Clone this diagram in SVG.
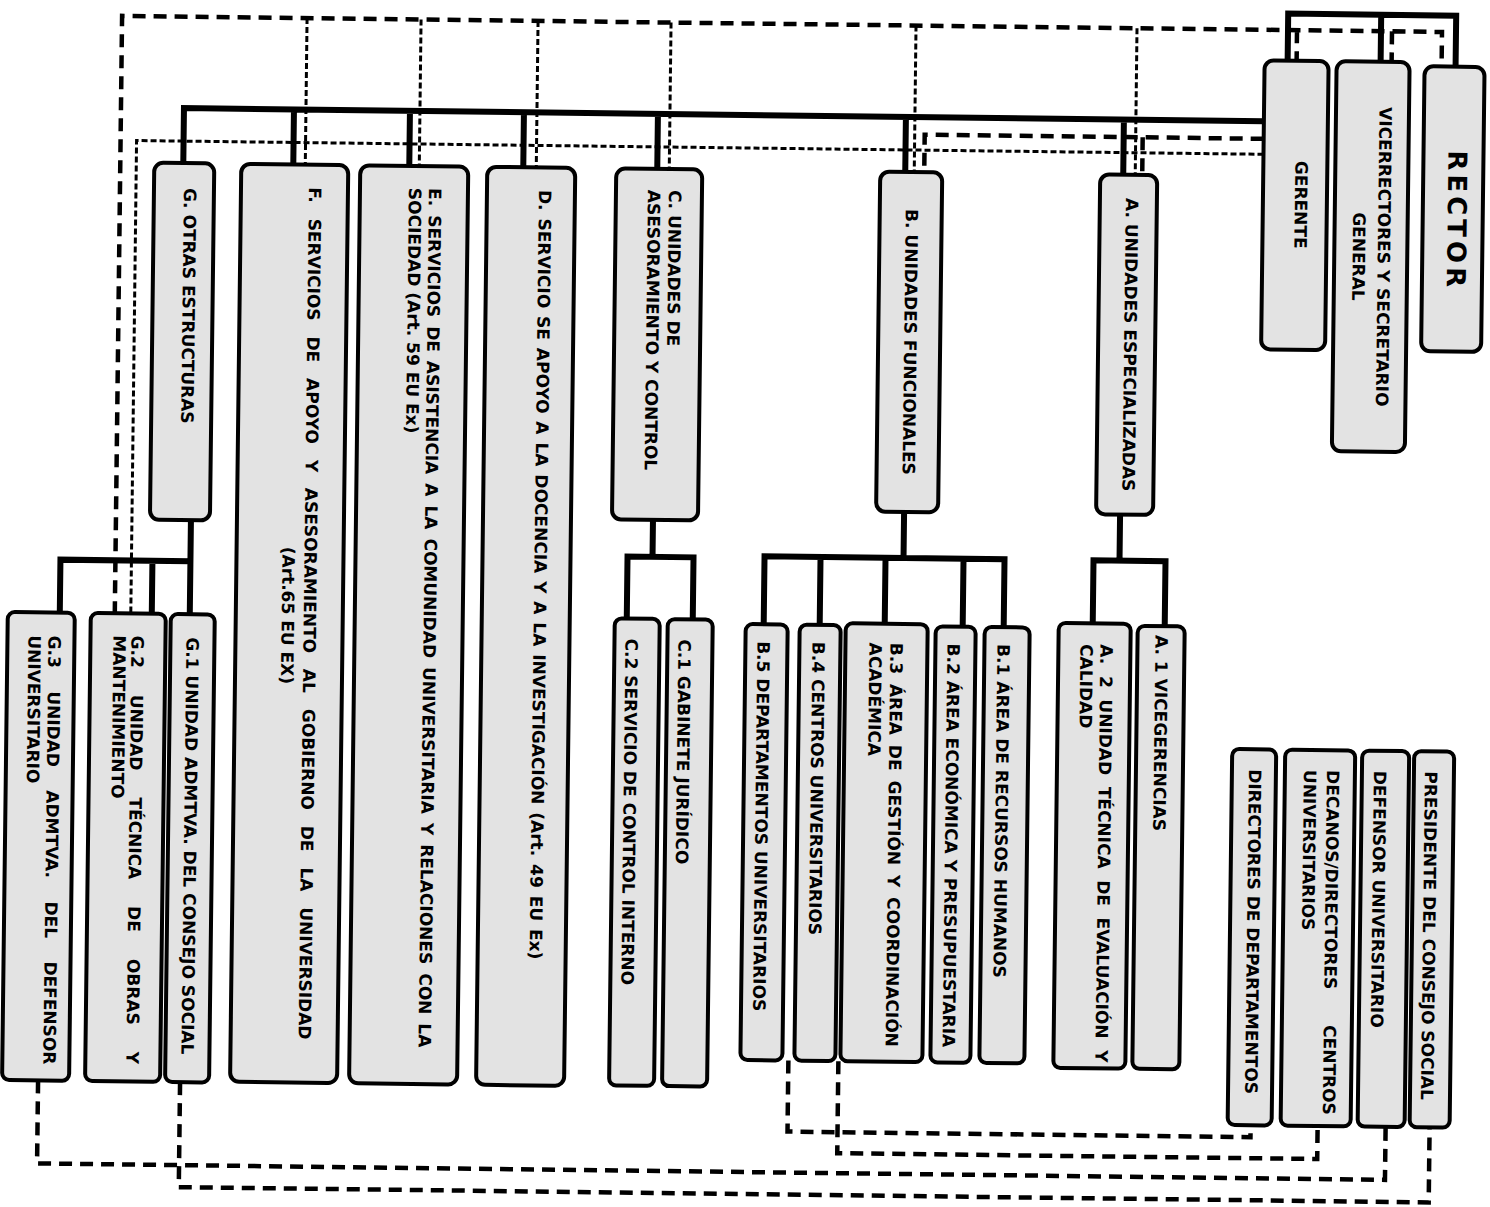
<svg xmlns="http://www.w3.org/2000/svg" width="1490" height="1207" viewBox="0 0 1490 1207">
<style>
.box{fill:#e3e3e3;stroke:#000;stroke-width:4}
.t{font-family:"DejaVu Sans",Verdana,sans-serif;font-weight:bold;font-size:17px;fill:#000}
.solid{fill:none;stroke:#000;stroke-width:6;stroke-linejoin:miter}
.dash{fill:none;stroke:#000;stroke-width:4.5;stroke-dasharray:13 8}
.fine{fill:none;stroke:#000;stroke-width:3;stroke-dasharray:6 3}
</style>
<rect x="0" y="0" width="1490" height="1207" fill="#fff"/>
<g transform="rotate(0.7 745 600)">
<g id="connectors">
<path class="solid" d="M178 170 V115 H1258 M288 115 V170 M404 115 V170 M518 115 V170 M652 115 V170 M900 115 V170 M1118 115 V170"/>
<path class="solid" d="M1281 54 V7 H1449 V58 M1374 7 V54"/>
<path class="solid" d="M190 527 V622 M60 622 V568 H190 M152 568 V622"/>
<path class="solid" d="M652 521 V558 M627 620 V558 H693 V620"/>
<path class="solid" d="M903 510 V556 M764 624 V556 H1004 V624 M820 556 V624 M885 556 V622 M963 556 V624"/>
<path class="solid" d="M1119 510 V556 M1093 619 V556 H1165 V621"/>
<path class="dash" d="M115 622 V23.5 H1435 V58 M1290 23.5 V54 M1385 23.5 V54"/>
<path class="dash" d="M1258 132.5 H919 V170 M1137 132.5 V170"/>
<path class="fine" d="M1258 148 H131 V622"/>
<path class="fine" d="M300 23.5 V170 M414 23.5 V170 M531 23.5 V170 M664 23.5 V170 M909 23.5 V170 M1130 23.5 V170"/>
<path class="dash" d="M794 1060 V1131 H1257 V1119"/>
<path class="dash" d="M844 1060 V1152 H1324 V1119"/>
<path class="dash" d="M44 1089 V1172 H1392 V1119"/>
<path class="dash" d="M186 1089 V1194 H1436 V1119"/>
</g>
<g id="rector"><rect class="box" x="1418" y="58" width="60" height="285" rx="9"/>
<text class="t" style="font-size:26px;letter-spacing:4px" text-anchor="middle" transform="translate(1443,212) rotate(90)">RECTOR</text></g>
<g id="vicerrectores"><rect class="box" x="1330" y="54" width="73" height="390" rx="9"/>
<text class="t" text-anchor="middle" transform="translate(1373.5,249) rotate(90)">VICERRECTORES Y SECRETARIO<tspan x="0" dy="25">GENERAL</tspan></text></g>
<g id="gerente"><rect class="box" x="1258" y="54" width="64" height="289" rx="9"/>
<text class="t" text-anchor="middle" transform="translate(1290,198) rotate(90)">GERENTE</text></g>
<g id="node-a"><rect class="box" x="1095" y="170" width="57" height="340" rx="9"/>
<text class="t" text-anchor="middle" transform="translate(1121,340) rotate(90)">A. UNIDADES ESPECIALIZADAS</text></g>
<g id="node-b"><rect class="box" x="875" y="170" width="62" height="340" rx="9"/>
<text class="t" text-anchor="middle" transform="translate(901,340) rotate(90)">B. UNIDADES FUNCIONALES</text></g>
<g id="node-c"><rect class="box" x="611" y="170" width="86" height="351" rx="9"/>
<text class="t" transform="translate(664,191) rotate(90)">C. UNIDADES DE<tspan x="0" dy="21">ASESORAMIENTO Y CONTROL</tspan></text></g>
<g id="node-d"><rect class="box" x="482" y="170" width="88" height="918" rx="9"/>
<text class="t" word-spacing="2" transform="translate(534,192.5) rotate(90)">D. SERVICIO SE APOYO A LA DOCENCIA Y A LA INVESTIGACIÓN (Art. 49 EU Ex)</text></g>
<g id="node-e"><rect class="box" x="355" y="170" width="108" height="918" rx="9"/>
<text class="t" word-spacing="3.1" transform="translate(424,192) rotate(90)">E. SERVICIOS DE ASISTENCIA A LA COMUNIDAD UNIVERSITARIA Y RELACIONES CON LA</text>
<text class="t" transform="translate(404,192) rotate(90)">SOCIEDAD (Art. 59 EU Ex)</text></g>
<g id="node-f"><rect class="box" x="236" y="170" width="107" height="918" rx="9"/>
<text class="t" word-spacing="10" transform="translate(304,192.5) rotate(90)">F. SERVICIOS DE APOYO Y ASESORAMIENTO AL GOBIERNO DE LA UNIVERSIDAD</text>
<text class="t" text-anchor="middle" transform="translate(282,621) rotate(90)">(Art.65 EU EX)</text></g>
<g id="node-g"><rect class="box" x="149" y="170" width="60" height="357" rx="9"/>
<text class="t" transform="translate(179,195) rotate(90)">G. OTRAS ESTRUCTURAS</text></g>
<g id="node-a1"><rect class="box" x="1138" y="621" width="47" height="443" rx="7"/>
<text class="t" transform="translate(1156,630) rotate(90)">A. 1 VICEGERENCIAS</text></g>
<g id="node-a2"><rect class="box" x="1059" y="619" width="72" height="445" rx="7"/>
<text class="t" word-spacing="5.7" transform="translate(1101,640) rotate(90)">A. 2 UNIDAD TÉCNICA DE EVALUACIÓN Y</text>
<text class="t" transform="translate(1081,640) rotate(90)">CALIDAD</text></g>
<g id="node-b1"><rect class="box" x="985" y="624" width="45" height="436" rx="7"/>
<text class="t" transform="translate(998,641) rotate(90)">B.1 ÁREA DE RECURSOS HUMANOS</text></g>
<g id="node-b2"><rect class="box" x="936" y="624" width="40" height="436" rx="7"/>
<text class="t" transform="translate(948,641) rotate(90)">B.2 ÁREA ECONÓMICA Y PRESUPUESTARIA</text></g>
<g id="node-b3"><rect class="box" x="846" y="622" width="82" height="438" rx="7"/>
<text class="t" word-spacing="4" transform="translate(891,641) rotate(90)">B.3 ÁREA DE GESTIÓN Y COORDINACIÓN</text>
<text class="t" transform="translate(870,641) rotate(90)">ACADÉMICA</text></g>
<g id="node-b4"><rect class="box" x="800" y="624" width="41" height="436" rx="7"/>
<text class="t" transform="translate(813,641) rotate(90)">B.4 CENTROS UNIVERSITARIOS</text></g>
<g id="node-b5"><rect class="box" x="746" y="624" width="42" height="436" rx="7"/>
<text class="t" transform="translate(758,641) rotate(90)">B.5 DEPARTAMENTOS UNIVERSITARIOS</text></g>
<g id="node-c1"><rect class="box" x="668" y="620" width="45" height="467" rx="7"/>
<text class="t" transform="translate(679,640) rotate(90)">C.1 GABINETE JURÍDICO</text></g>
<g id="node-c2"><rect class="box" x="615" y="620" width="45" height="467" rx="7"/>
<text class="t" transform="translate(626,640) rotate(90)">C.2 SERVICIO DE CONTROL INTERNO</text></g>
<g id="node-g1"><rect class="box" x="171" y="621" width="44" height="468" rx="7"/>
<text class="t" transform="translate(187,644) rotate(90)">G.1 UNIDAD ADMTVA. DEL CONSEJO SOCIAL</text></g>
<g id="node-g2"><rect class="box" x="91" y="621" width="75" height="468" rx="7"/>
<text class="t" word-spacing="21" transform="translate(132,643) rotate(90)">G.2 UNIDAD TÉCNICA DE OBRAS Y</text>
<text class="t" transform="translate(114,643) rotate(90)">MANTENIMIENTO</text></g>
<g id="node-g3"><rect class="box" x="8" y="621" width="67" height="468" rx="7"/>
<text class="t" word-spacing="17.5" transform="translate(49,644) rotate(90)">G.3 UNIDAD ADMTVA. DEL DEFENSOR</text>
<text class="t" transform="translate(29,644) rotate(90)">UNIVERSITARIO</text></g>
<g id="directores"><rect class="box" x="1234" y="743" width="44" height="376" rx="7"/>
<text class="t" transform="translate(1251,763) rotate(90)">DIRECTORES DE DEPARTAMENTOS</text></g>
<g id="decanos"><rect class="box" x="1287" y="743" width="70" height="376" rx="7"/>
<text class="t" word-spacing="30" transform="translate(1329,763) rotate(90)">DECANOS/DIRECTORES CENTROS</text>
<text class="t" transform="translate(1306,763) rotate(90)">UNIVERSITARIOS</text></g>
<g id="defensor"><rect class="box" x="1364" y="743" width="47" height="376" rx="7"/>
<text class="t" transform="translate(1376,763) rotate(90)">DEFENSOR UNIVERSITARIO</text></g>
<g id="presidente"><rect class="box" x="1416" y="743" width="40" height="376" rx="7"/>
<text class="t" transform="translate(1427,763) rotate(90)">PRESIDENTE DEL CONSEJO SOCIAL</text></g>
</g>
</svg>
